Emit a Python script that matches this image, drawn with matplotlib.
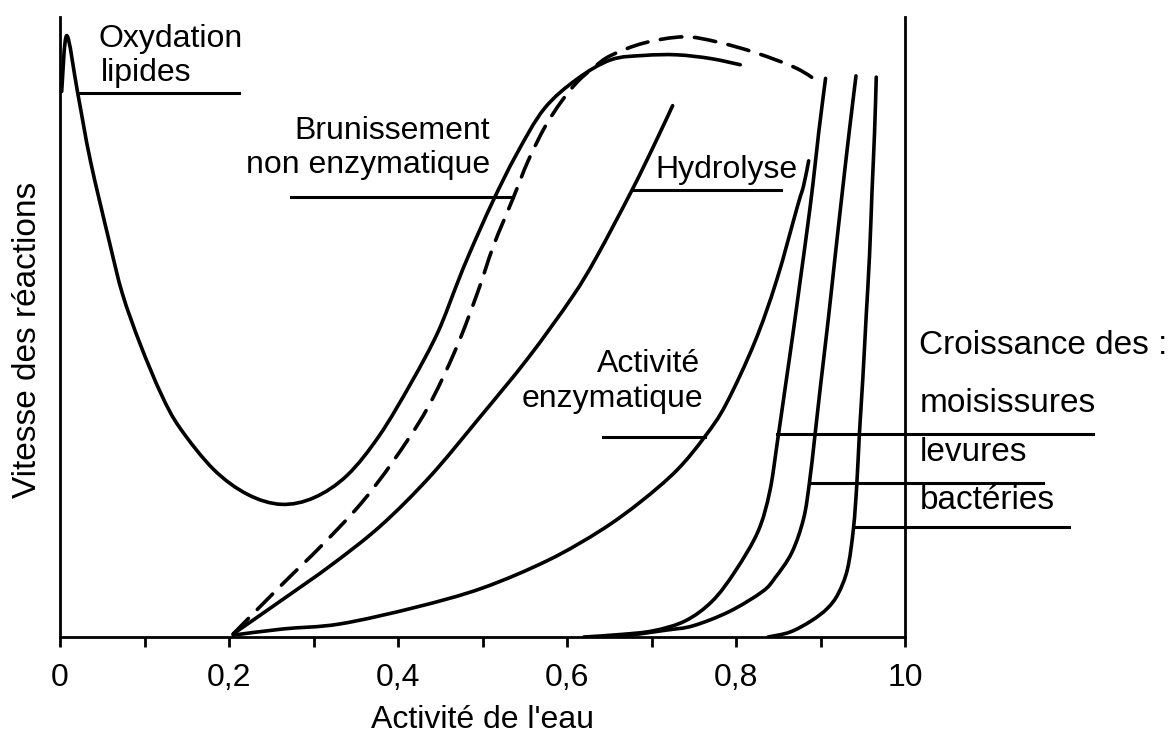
import matplotlib
matplotlib.use("Agg")
import matplotlib.pyplot as plt
from matplotlib.path import Path
from matplotlib.patches import PathPatch

plt.rcParams['font.family'] = ['Liberation Sans', 'DejaVu Sans']

# water activity (x) / relative reaction rate (y, 0-100)
oxy_x = [0.002, 0.008, 0.021, 0.036, 0.059, 0.074, 0.095, 0.120, 0.142, 0.182, 0.222,
         0.262, 0.301, 0.340, 0.378, 0.416, 0.447, 0.470, 0.485, 0.512, 0.540, 0.573,
         0.612, 0.652, 0.691, 0.730, 0.770, 0.805]
oxy_y = [88.0, 97.0, 87.7, 76.8, 63.4, 55.3, 47.2, 39.1, 33.7, 27.0, 23.0,
         21.4, 22.5, 26.1, 32.5, 41.1, 49.1, 57.0, 62.0, 70.2, 77.8, 85.2,
         90.0, 93.1, 93.8, 93.9, 93.3, 92.3]

brun_x = [0.205, 0.263, 0.310, 0.356, 0.394, 0.434, 0.468, 0.494, 0.513, 0.536, 0.554,
          0.574, 0.593, 0.612, 0.632, 0.652, 0.691, 0.738, 0.777, 0.824, 0.872, 0.901]
brun_y = [0.5, 8.5, 14.8, 21.5, 28.3, 36.7, 46.3, 55.5, 63.1, 70.7, 76.8,
          82.3, 86.3, 89.5, 91.9, 93.8, 95.8, 96.8, 96.0, 94.2, 91.7, 89.2]

hydro_x = [0.205, 0.263, 0.322, 0.380, 0.438, 0.496, 0.554, 0.606, 0.635, 0.677, 0.704, 0.725]
hydro_y = [0.5, 6.0, 11.7, 18.0, 25.9, 35.3, 45.0, 54.8, 61.3, 72.1, 79.6, 85.7]

enz_x = [0.205, 0.264, 0.331, 0.421, 0.500, 0.578, 0.640, 0.687, 0.730, 0.763, 0.788,
         0.822, 0.848, 0.873, 0.880, 0.886]
enz_y = [0.3, 1.3, 2.1, 4.8, 7.9, 12.4, 17.2, 21.8, 26.9, 32.3, 37.5,
         47.5, 57.5, 69.6, 72.8, 76.8]

moi_x = [0.62, 0.663, 0.702, 0.740, 0.772, 0.799, 0.826, 0.840, 0.849, 0.858, 0.868,
         0.876, 0.884, 0.891, 0.898, 0.906]
moi_y = [0.0, 0.4, 1.0, 2.6, 5.8, 10.6, 17.0, 23.5, 31.5, 40.0, 49.5,
         57.5, 65.5, 73.0, 81.5, 90.1]

lev_x = [0.66, 0.717, 0.749, 0.792, 0.831, 0.846, 0.866, 0.880, 0.887, 0.893, 0.900,
         0.909, 0.917, 0.926, 0.934, 0.942]
lev_y = [0.0, 1.1, 1.8, 4.1, 7.3, 9.5, 13.6, 19.1, 25.0, 32.0, 40.5,
         51.0, 61.0, 72.0, 81.5, 90.5]

bac_x = [0.838, 0.864, 0.889, 0.908, 0.921, 0.932, 0.939, 0.943, 0.946, 0.950, 0.954,
         0.958, 0.961, 0.964, 0.966]
bac_y = [0.0, 0.8, 2.6, 4.6, 7.0, 11.0, 17.5, 24.7, 32.7, 41.5, 51.6,
         61.5, 72.0, 81.5, 90.3]

tick_pos = [0, 0.2, 0.4, 0.6, 0.8, 1.0]
tick_lab = ['0', '0,2', '0,4', '0,6', '0,8', '10']


def smooth(xs, ys):
    # Catmull-Rom through the read points, drawn as cubic Bezier segments
    p = list(zip(xs, ys))
    verts, codes = [p[0]], [Path.MOVETO]
    for i in range(len(p) - 1):
        p0 = p[i - 1] if i > 0 else p[i]
        p1, p2 = p[i], p[i + 1]
        p3 = p[i + 2] if i + 2 < len(p) else p[i + 1]
        c1 = (p1[0] + (p2[0] - p0[0]) / 6, p1[1] + (p2[1] - p0[1]) / 6)
        c2 = (p2[0] - (p3[0] - p1[0]) / 6, p2[1] - (p3[1] - p1[1]) / 6)
        verts += [c1, c2, p2]
        codes += [Path.CURVE4] * 3
    return Path(verts, codes)


fig = plt.figure(figsize=(11.7, 7.35), dpi=100)
ax = fig.add_axes([60/1170, 98/735, 845/1170, 620/735])
ax.set_xlim(0, 1.0)
ax.set_ylim(0, 100)

lw = 2.6
for xs, ys, ls in [(oxy_x, oxy_y, '-'), (brun_x, brun_y, (0, (6, 3.5))),
                   (hydro_x, hydro_y, '-'), (enz_x, enz_y, '-'),
                   (moi_x, moi_y, '-'), (lev_x, lev_y, '-'), (bac_x, bac_y, '-')]:
    ax.add_patch(PathPatch(smooth(xs, ys), fill=False, ec='black', lw=lw,
                           linestyle=ls, capstyle='round', joinstyle='round'))

# leader lines under the labels
lk = dict(color='black', lw=2.2, clip_on=False)
ax.plot([0.021, 0.212], [87.7, 87.7], **lk)
ax.plot([0.273, 0.536], [71.0, 71.0], **lk)
ax.plot([0.677, 0.853], [72.1, 72.1], **lk)
ax.plot([0.643, 0.763], [32.3, 32.3], **lk)
ax.plot([0.849, 1.222], [32.8, 32.8], **lk)
ax.plot([0.888, 1.163], [24.8, 24.8], **lk)
ax.plot([0.940, 1.194], [17.8, 17.8], **lk)

fs = 23
tk = dict(fontsize=fs, va='baseline', clip_on=False)
ax.text(0.046, 95.2, 'Oxydation', **tk)
ax.text(0.048, 89.6, 'lipides', **tk)
ax.text(0.509, 80.4, 'Brunissement', ha='right', **tk)
ax.text(0.509, 74.8, 'non enzymatique', ha='right', **tk)
ax.text(0.704, 74.0, 'Hydrolyse', **tk)
ax.text(0.757, 42.7, 'Activité', ha='right', **tk)
ax.text(0.761, 37.1, 'enzymatique', ha='right', **tk)
rk = dict(fontsize=24, va='baseline', clip_on=False)
ax.text(1.016, 45.6, 'Croissance des :', **rk)
ax.text(1.018, 36.3, 'moisissures', **rk)
ax.text(1.018, 28.4, 'levures', **rk)
ax.text(1.018, 20.6, 'bactéries', **rk)

for s in ['left', 'right', 'bottom']:
    ax.spines[s].set_linewidth(2.0)
ax.spines['top'].set_visible(False)

ax.set_xticks(tick_pos)
ax.set_xticklabels(tick_lab)
ax.set_xticks([0.1, 0.3, 0.5, 0.7, 0.9], minor=True)
ax.tick_params(axis='x', which='both', direction='out', length=7, width=2.0,
               labelsize=fs, pad=12)
ax.set_yticks([])
ax.set_xlabel("Activité de l'eau", fontsize=fs, labelpad=8)
ax.set_ylabel('Vitesse des réactions', fontsize=24)
ax.yaxis.set_label_coords(-0.020, 0.48)

plt.savefig('out.png', dpi=100)
